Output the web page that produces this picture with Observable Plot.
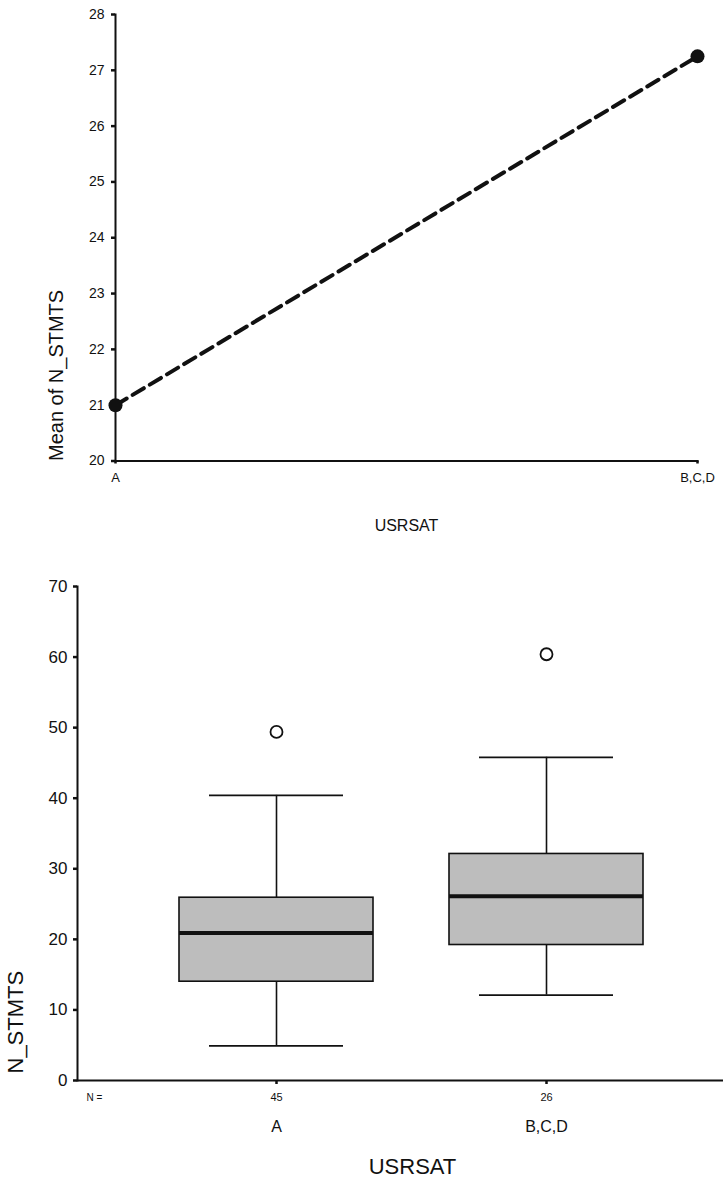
<!DOCTYPE html>
<html>
<head>
<meta charset="utf-8">
<script src="https://cdn.jsdelivr.net/npm/d3@7"></script>
<script src="https://cdn.jsdelivr.net/npm/@observablehq/plot@0.6"></script>
<style>
  body { margin: 0; background: #fff; }
  svg { display: block; }
</style>
</head>
<body>
<div id="top"></div>
<div id="bottom"></div>
<script>
// ---- Top chart: mean of N_STMTS by USRSAT ----
const categories = ["A", "B,C,D"];
const meanStmts = [21.0, 27.25];
const meanTicks = [20, 21, 22, 23, 24, 25, 26, 27, 28];

// ---- Bottom chart: box plot of N_STMTS by USRSAT ----
const groups = ["A", "B,C,D"];
const nCounts = [45, 26];
const whiskerLow = [4.9, 12.1];
const quartile1 = [14.0, 19.2];
const medians = [20.9, 26.1];
const quartile3 = [25.9, 32.1];
const whiskerHigh = [40.4, 45.8];
const outlierGroup = ["A", "B,C,D"];
const outlierValue = [49.4, 60.4];
const boxTicks = [0, 10, 20, 30, 40, 50, 60, 70];

const font = "'Liberation Sans', Arial, Helvetica, sans-serif";
const ink = "#111";

const lineData = categories.map((c, i) => ({cat: c, mean: meanStmts[i]}));

const topPlot = Plot.plot({
  width: 723,
  height: 548,
  marginLeft: 115,
  marginRight: 26,
  marginTop: 14,
  marginBottom: 87.5,
  style: {fontFamily: font, color: ink, background: "#fff", overflow: "visible"},
  x: {type: "point", domain: categories, padding: 0},
  y: {domain: [20, 28]},
  marks: [
    Plot.frame({anchor: "left", stroke: ink, strokeWidth: 2}),
    Plot.frame({anchor: "bottom", stroke: ink, strokeWidth: 2}),
    Plot.axisY({ticks: meanTicks, tickSize: 4, tickPadding: 7, fontSize: 14, label: null, strokeWidth: 2.5}),
    Plot.axisX({tickSize: 3, tickPadding: 9, fontSize: 13, label: null, strokeWidth: 2.5}),
    Plot.line(lineData, {x: "cat", y: "mean", stroke: ink, strokeWidth: 4, strokeDasharray: "13,7"}),
    Plot.dot(lineData, {x: "cat", y: "mean", r: 7, fill: ink, stroke: "none"}),
    Plot.text(["Mean of N_STMTS"], {text: d => d, frameAnchor: "bottom-left", rotate: -90, textAnchor: "start", dx: -53, fontSize: 20, fill: ink}),
    Plot.text(["USRSAT"], {text: d => d, frameAnchor: "bottom", dy: 70, fontSize: 16, fill: ink})
  ]
});
document.getElementById("top").append(topPlot);

const boxData = groups.map((g, i) => ({
  group: g, n: nCounts[i], lo: whiskerLow[i], q1: quartile1[i],
  med: medians[i], q3: quartile3[i], hi: whiskerHigh[i]
}));
const outlierData = outlierGroup.map((g, i) => ({group: g, value: outlierValue[i]}));

const bottomPlot = Plot.plot({
  width: 723,
  height: 640,
  marginLeft: 77,
  marginRight: 0,
  marginTop: 38,
  marginBottom: 108,
  style: {fontFamily: font, color: ink, background: "#fff", overflow: "visible"},
  x: {type: "band", domain: groups, range: [179, 643], paddingInner: 0.2815, paddingOuter: 0},
  y: {domain: [0, 70]},
  marks: [
    Plot.ruleX(boxData, {x: "group", y1: "lo", y2: "q1", stroke: ink, strokeWidth: 1.6}),
    Plot.ruleX(boxData, {x: "group", y1: "q3", y2: "hi", stroke: ink, strokeWidth: 1.6}),
    Plot.tickY(boxData, {x: "group", y: "lo", insetLeft: 30, insetRight: 30, stroke: ink, strokeWidth: 1.8}),
    Plot.tickY(boxData, {x: "group", y: "hi", insetLeft: 30, insetRight: 30, stroke: ink, strokeWidth: 1.8}),
    Plot.barY(boxData, {x: "group", y1: "q1", y2: "q3", fill: "#bdbdbd", stroke: ink, strokeWidth: 1.6}),
    Plot.tickY(boxData, {x: "group", y: "med", stroke: ink, strokeWidth: 4}),
    Plot.dot(outlierData, {x: "group", y: "value", r: 6, stroke: ink, strokeWidth: 1.8, fill: "none"}),
    Plot.frame({anchor: "left", stroke: ink, strokeWidth: 2}),
    Plot.ruleY([0], {stroke: ink, strokeWidth: 2}),
    Plot.axisY({ticks: boxTicks, tickSize: 4, tickPadding: 6, fontSize: 17, label: null, strokeWidth: 2.5}),
    Plot.axisX({tickSize: 4, tickPadding: 36, fontSize: 16, label: null, strokeWidth: 2.5}),
    Plot.text(boxData, {x: "group", text: d => String(d.n), frameAnchor: "bottom", dy: 20, fontSize: 11, fill: ink}),
    Plot.text(["N ="], {text: d => d, frameAnchor: "bottom-left", dx: 9, dy: 20, fontSize: 10, fill: ink}),
    Plot.text(["N_STMTS"], {text: d => d, frameAnchor: "bottom-left", rotate: -90, textAnchor: "start", dx: -55, dy: -7, fontSize: 22, fill: ink}),
    Plot.text(["USRSAT"], {text: d => d, frameAnchor: "bottom", dy: 93, dx: 12, fontSize: 22, fill: ink})
  ]
});
document.getElementById("bottom").append(bottomPlot);
</script>
</body>
</html>
